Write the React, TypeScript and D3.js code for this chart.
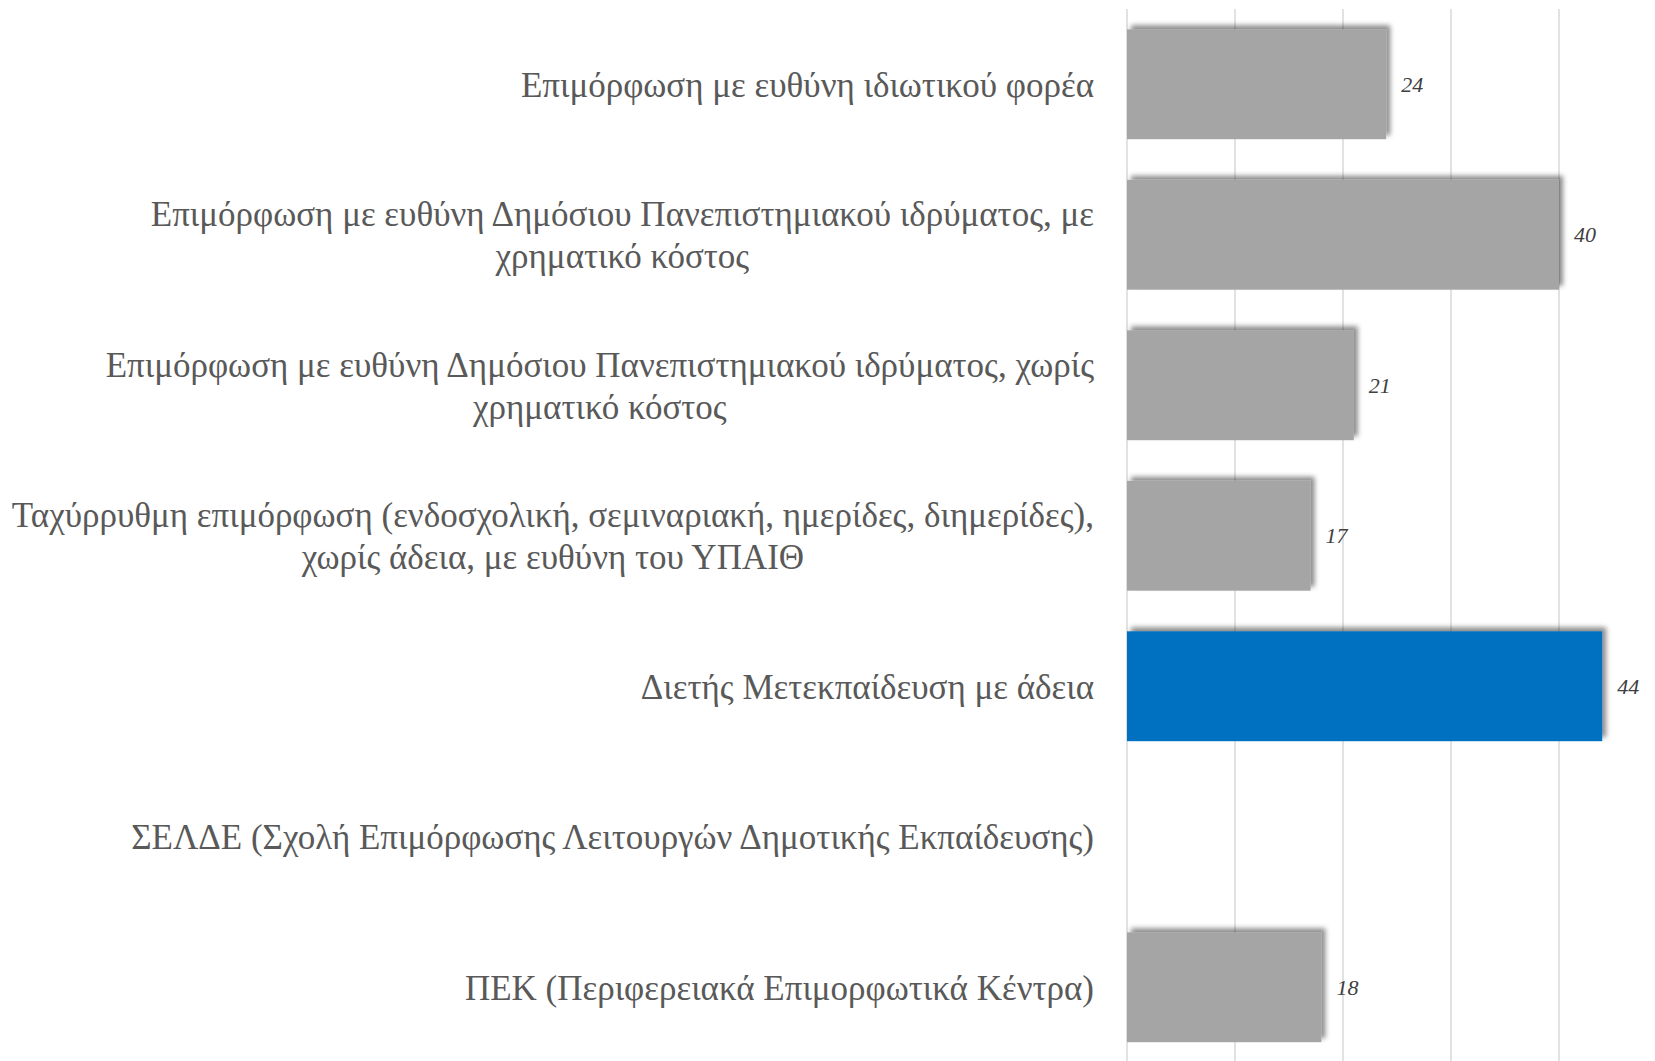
import React, {useRef, useEffect} from 'react';
import * as d3 from 'd3';

// categories (each entry is the list of text lines of the label)
const categories: string[][] = [
  ['Επιμόρφωση με ευθύνη ιδιωτικού φορέα'],
  ['Επιμόρφωση με ευθύνη Δημόσιου Πανεπιστημιακού ιδρύματος, με', 'χρηματικό κόστος'],
  ['Επιμόρφωση με ευθύνη Δημόσιου Πανεπιστημιακού ιδρύματος, χωρίς', 'χρηματικό κόστος'],
  ['Ταχύρρυθμη επιμόρφωση (ενδοσχολική, σεμιναριακή, ημερίδες, διημερίδες),', 'χωρίς άδεια, με ευθύνη του ΥΠΑΙΘ'],
  ['Διετής Μετεκπαίδευση με άδεια'],
  ['ΣΕΛΔΕ (Σχολή Επιμόρφωσης Λειτουργών Δημοτικής Εκπαίδευσης)'],
  ['ΠΕΚ (Περιφερειακά Επιμορφωτικά Κέντρα)'],
];
const values: (number | null)[] = [24, 40, 21, 17, 44, null, 18];
const highlighted = [false, false, false, false, true, false, false];
const gridTicks = [0, 10, 20, 30, 40];

const W = 1655;
const H = 1061;
const plotLeft = 1127;
const labelRight = 1094;
const FONT = '"Liberation Serif", "DejaVu Serif", serif';

const App = () => {
  const svgRef = useRef<SVGSVGElement>(null);

  useEffect(() => {
    const svg = d3.select(svgRef.current);
    svg.selectAll('*').remove();

    const defs = svg.append('defs');
    const f = defs.append('filter').attr('id', 'shadow')
      .attr('x', '-10%').attr('y', '-20%').attr('width', '120%').attr('height', '140%');
    f.append('feDropShadow')
      .attr('dx', 4).attr('dy', -4).attr('stdDeviation', 2.5)
      .attr('flood-color', '#000').attr('flood-opacity', 0.45);

    // 10 units per gridline, ~108px apart; the plot runs off the right edge
    const x = d3.scaleLinear().domain([0, 50]).range([plotLeft, plotLeft + 540]);
    const y = d3.scaleBand<number>()
      .domain(d3.range(categories.length))
      .range([9, 9 + 150.5 * categories.length])
      .paddingInner(0.27)
      .paddingOuter(0.135);

    // gridlines
    svg.append('g').selectAll('line')
      .data(gridTicks)
      .join('line')
      .attr('x1', d => x(d)).attr('x2', d => x(d))
      .attr('y1', 9).attr('y2', H)
      .attr('stroke', '#D9D9D9')
      .attr('stroke-width', 1.5);

    // bars
    const rows = d3.range(categories.length).filter(i => values[i] != null);
    svg.append('g').selectAll('rect')
      .data(rows)
      .join('rect')
      .attr('x', x(0))
      .attr('y', i => y(i)!)
      .attr('width', i => x(values[i] as number) - x(0))
      .attr('height', y.bandwidth())
      .attr('fill', i => highlighted[i] ? '#0070C0' : '#A5A5A5')
      .attr('filter', 'url(#shadow)');

    // value labels
    svg.append('g').selectAll('text')
      .data(rows)
      .join('text')
      .attr('x', i => x(values[i] as number) + 15)
      .attr('y', i => y(i)! + y.bandwidth() / 2)
      .attr('dy', '0.35em')
      .attr('font-family', FONT)
      .attr('font-style', 'italic')
      .attr('font-size', 22)
      .attr('fill', '#404040')
      .text(i => String(values[i]));

    // category labels: block right-aligned, lines centred inside it
    const lineH = 42;
    const labels = svg.append('g')
      .attr('font-family', FONT)
      .attr('font-size', 35)
      .attr('fill', '#595959');
    categories.forEach((lines, i) => {
      const g = labels.append('g');
      const cy = y(i)! + y.bandwidth() / 2;
      const texts = lines.map((ln, k) =>
        g.append('text')
          .attr('y', cy + (k - (lines.length - 1) / 2) * lineH)
          .attr('dy', '0.35em')
          .attr('text-anchor', 'middle')
          .text(ln));
      const widths = texts.map(t => (t.node() as SVGTextElement).getComputedTextLength());
      const maxW = d3.max(widths) || 0;
      texts.forEach(t => t.attr('x', labelRight - maxW / 2));
    });
  }, []);

  return (
    <div style={{position: 'absolute', left: 0, top: 0, background: '#fff'}}>
      <svg ref={svgRef} width={W} height={H} style={{display: 'block'}}/>
    </div>
  );
};

export default App;
